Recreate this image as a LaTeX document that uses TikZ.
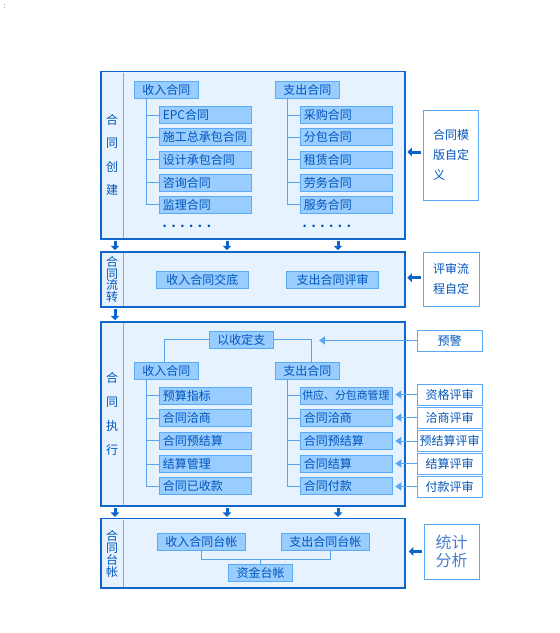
\documentclass[tikz,border=0pt]{standalone}
\usepackage{fontspec}
\setmainfont{Noto Sans CJK SC}
\usetikzlibrary{arrows.meta}
\definecolor{blkborder}{HTML}{1166CC}
\definecolor{blkfill}{HTML}{E6F2FE}
\definecolor{divline}{HTML}{66B2FF}
\definecolor{subfill}{HTML}{99CCFF}
\definecolor{subborder}{HTML}{5AAAF8}
\definecolor{txt}{HTML}{0055BB}
\definecolor{rborder}{HTML}{5AAAF5}
\definecolor{arrdark}{HTML}{0A66CC}
\definecolor{treeline}{HTML}{5AA5F0}
\definecolor{lighttxt}{HTML}{4A7FD0}
\begin{document}
\begin{tikzpicture}[x=1pt,y=-1pt,
  every node/.style={font=\fontsize{12}{14}\selectfont, text=txt},
  blk/.style={draw=blkborder, fill=blkfill, line width=1.5pt, inner sep=0pt},
  divl/.style={draw=divline, line width=1pt},
  sub/.style={draw=subborder, fill=subfill, line width=1pt, minimum height=17pt, text width=86pt, inner xsep=3pt, inner ysep=0pt, align=left, anchor=west},
  hdr/.style={draw=subborder, fill=subfill, line width=1pt, minimum height=17pt, minimum width=64pt, inner sep=0pt},
  wide/.style={draw=subborder, fill=subfill, line width=1pt, minimum height=17.4pt, minimum width=90pt, inner sep=0pt},
  rbox/.style={draw=rborder, fill=white, line width=1pt, inner sep=0pt},
  tree/.style={draw=treeline, line width=1pt},
  vlabel/.style={align=center, inner sep=0pt},
  bigarr/.style={draw=arrdark, line width=3pt, -{Triangle[length=4.5pt,width=8.5pt]}},
  revarr/.style={draw=treeline, line width=0.9pt, -{Triangle[length=6pt,width=8pt]}},
  dots/.style={font=\bfseries\fontsize{12}{14}\selectfont, inner sep=0pt, anchor=west}
]
\useasboundingbox (0,0) rectangle (560,633);
\node[font=\fontsize{7}{8}\selectfont, text=black!70, inner sep=0pt] (colon) at (4.5,7) {:};

% ---------- blocks ----------
\node[blk, minimum width=304pt, minimum height=167.3pt] (b1) at (253,155.35) {};
\node[blk, minimum width=304pt, minimum height=55pt] (b2) at (253,279.5) {};
\node[blk, minimum width=304pt, minimum height=184pt] (b3) at (253,414) {};
\node[blk, minimum width=304pt, minimum height=69.3pt] (b4) at (253,553.35) {};
\draw[divl] (123.3,72.5) -- (123.3,238.2);
\draw[divl] (123.3,252.8) -- (123.3,306.2);
\draw[divl] (123.3,322.8) -- (123.3,505.2);
\draw[divl] (123.3,519.5) -- (123.3,587.2);

% left labels
\node[vlabel, font=\fontsize{12}{23.5}\selectfont] (l1) at (112,155) {合\\同\\创\\建};
\node[vlabel, font=\fontsize{12}{11.8}\selectfont] (l2) at (112,279.5) {合\\同\\流\\转};
\node[vlabel, font=\fontsize{12}{24}\selectfont] (l3) at (112,414) {合\\同\\执\\行};
\node[vlabel, font=\fontsize{12}{11.8}\selectfont] (l4) at (112,554) {合\\同\\台\\帐};

% ---------- block 1 ----------
\node[hdr] (h1) at (166.3,89.8) {收入合同};
\node[hdr] (h2) at (307.3,89.8) {支出合同};
\node[sub] (a1) at (159.3,115) {EPC合同};
\node[sub] (a2) at (159.3,137.2) {施工总承包合同};
\node[sub] (a3) at (159.3,159.8) {设计承包合同};
\node[sub] (a4) at (159.3,182.6) {咨询合同};
\node[sub] (a5) at (159.3,204.8) {监理合同};
\node[sub] (c1) at (300.3,115) {采购合同};
\node[sub] (c2) at (300.3,137.2) {分包合同};
\node[sub] (c3) at (300.3,159.8) {租赁合同};
\node[sub] (c4) at (300.3,182.6) {劳务合同};
\node[sub] (c5) at (300.3,204.8) {服务合同};
\foreach \n in {a1,a2,a3,a4,a5} \draw[tree] ([xshift=-19.6pt]h1.south) |- (\n.west);
\foreach \n in {c1,c2,c3,c4,c5} \draw[tree] ([xshift=-19.6pt]h2.south) |- (\n.west);
\node[dots] (d1) at (162.5,226) {.\hskip4.6pt.\hskip4.6pt.\hskip4.6pt.\hskip4.6pt.\hskip4.6pt.};
\node[dots] (d2) at (302.5,226) {.\hskip4.6pt.\hskip4.6pt.\hskip4.6pt.\hskip4.6pt.\hskip4.6pt.};

% ---------- block 2 ----------
\node[wide, minimum width=92pt] (e1) at (202.3,280) {收入合同交底};
\node[wide, minimum width=92.4pt] (e2) at (332.5,280) {支出合同评审};

% ---------- block 3 ----------
\node[hdr] (y0) at (241.3,339.7) {以收定支};
\node[hdr] (h3) at (166.3,370.8) {收入合同};
\node[hdr] (h4) at (307.3,370.8) {支出合同};
\draw[tree] (y0.west) -| ([xshift=-2pt]h3.north);
\draw[tree] (y0.east) -| ([xshift=4.4pt]h4.north);
\node[sub] (f1) at (159.3,395.7) {预算指标};
\node[sub] (f2) at (159.3,418) {合同洽商};
\node[sub] (f3) at (159.3,440.8) {合同预结算};
\node[sub] (f4) at (159.3,464) {结算管理};
\node[sub] (f5) at (159.3,486) {合同已收款};
\node[sub, inner xsep=1.5pt, text width=89pt, font=\fontsize{10.9}{14}\selectfont] (g1) at (300.3,395.7) {供应、分包商管理};
\node[sub] (g2) at (300.3,418) {合同洽商};
\node[sub] (g3) at (300.3,440.8) {合同预结算};
\node[sub] (g4) at (300.3,464) {合同结算};
\node[sub] (g5) at (300.3,486) {合同付款};
\foreach \n in {f1,f2,f3,f4,f5} \draw[tree] ([xshift=-19.6pt]h3.south) |- (\n.west);
\foreach \n in {g1,g2,g3,g4,g5} \draw[tree] ([xshift=-19.6pt]h4.south) |- (\n.west);

% ---------- block 4 ----------
\node[wide, minimum width=88pt, minimum height=17pt] (t1) at (201.3,541.8) {收入合同台帐};
\node[wide, minimum width=88.7pt, minimum height=17pt] (t2) at (325.35,541.8) {支出合同台帐};
\node[hdr, minimum width=64.4pt] (t3) at (260.5,572.8) {资金台帐};
\coordinate (tj) at (260.7,559.3);
\draw[tree] (t1.south) |- (tj) -| ([xshift=5.35pt]t2.south);
\draw[tree] (tj) -- (t3.north);

% ---------- right boxes ----------
\node[rbox, minimum width=55.4pt, minimum height=90pt, text width=36pt, align=left, font=\fontsize{12}{20}\selectfont] (m1) at (451,155) {合同模\\版自定\\义};
\node[rbox, minimum width=56pt, minimum height=54pt, text width=36pt, align=left, font=\fontsize{12}{20}\selectfont] (m2) at (451,279) {评审流\\程自定};
\node[rbox, minimum width=65pt, minimum height=21pt] (yj) at (449.5,340.5) {预警};
\node[rbox, minimum width=65pt, minimum height=21pt] (r1) at (449.5,394.5) {资格评审};
\node[rbox, minimum width=65pt, minimum height=21pt] (r2) at (449.5,417.5) {洽商评审};
\node[rbox, minimum width=65pt, minimum height=21pt] (r3) at (449.5,441) {预结算评审};
\node[rbox, minimum width=65pt, minimum height=21pt] (r4) at (449.5,463.5) {结算评审};
\node[rbox, minimum width=65pt, minimum height=21pt] (r5) at (449.5,486.5) {付款评审};
\node[rbox, minimum width=55pt, minimum height=55pt, align=center, text=lighttxt, font=\fontsize{16}{18.5}\selectfont] (sf) at (451.5,551.5) {统计\\分析};

% ---------- arrows ----------
\foreach \dx in {-138,-26,85} {
  \draw[bigarr, shorten <=1.5pt, shorten >=1pt] ([xshift=\dx pt]b1.south) -- ([xshift=\dx pt]b2.north);
  \draw[bigarr, shorten <=1.5pt, shorten >=1pt] ([xshift=\dx pt]b3.south) -- ([xshift=\dx pt]b4.north);
}
\draw[bigarr, shorten <=1.5pt, shorten >=1pt] ([xshift=-138pt]b2.south) -- ([xshift=-138pt]b3.north);
\draw[bigarr, shorten <=2pt, shorten >=1.5pt] ([yshift=3pt]m1.west) -- ([yshift=3pt]m1.west -| b1.east);
\draw[bigarr, shorten <=2pt, shorten >=1.5pt] ([yshift=1.3pt]m2.west) -- ([yshift=1.3pt]m2.west -| b2.east);
\draw[bigarr, shorten <=2pt, shorten >=3pt] (sf.west) -- (sf.west -| b4.east);
\coordinate (yjtip) at (319,340.5);
\draw[revarr] (yj.west) -- (yjtip);
\foreach \r/\g in {r1/g1,r2/g2,r3/g3,r4/g4,r5/g5}
  \draw[revarr, shorten >=2pt] (\r.west) -- (\r.west -| \g.east);
\end{tikzpicture}
\end{document}
